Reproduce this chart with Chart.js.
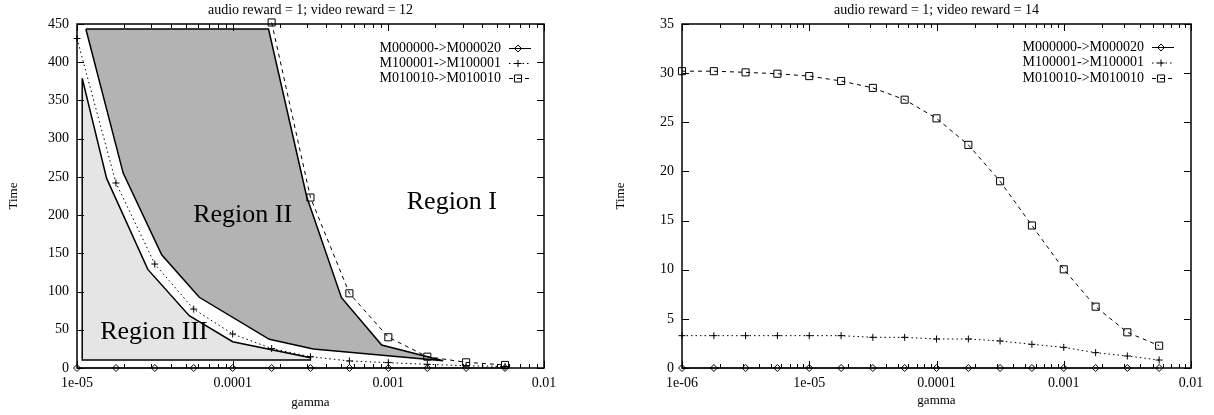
<!DOCTYPE html>
<html>
<head>
<meta charset="utf-8">
<script src="https://cdn.jsdelivr.net/npm/chart.js@4.4.1/dist/chart.umd.min.js"></script>
<style>
  body { margin: 0; background: #fff; }
  .panel { position: absolute; top: 0; width: 607px; height: 415px; }
</style>
</head>
<body>
<div class="panel" style="left:0"><canvas id="left-chart" width="607" height="415"></canvas></div>
<div class="panel" style="left:607px"><canvas id="right-chart" width="607" height="415"></canvas></div>
<script>
const seriesLabels = ["M000000->M000020", "M100001->M100001", "M010010->M010010"];

// left panel: audio reward = 1; video reward = 12
const leftTitle = "audio reward = 1; video reward = 12";
const leftGamma = [1e-5, 1.78e-5, 3.16e-5, 5.62e-5, 1e-4, 1.78e-4, 3.16e-4, 5.62e-4, 1e-3, 1.78e-3, 3.16e-3, 5.62e-3];
const leftM000000 = [0, 0, 0, 0, 0, 0, 0, 0, 0, 0, 0, 0];
const leftM100001 = [431, 242, 136, 77, 44.5, 25.5, 14.8, 9.2, 7.0, 4.8, 3.0, 2.0];
const leftM010010 = [null, null, null, null, null, 452, 223, 97.7, 40.2, 14.8, 7.4, 4.0];

const regionIIGamma = [1.14e-5, 1.70e-4, 2.99e-4, 5.0e-4, 9.06e-4, 2.25e-3, 3.3e-4, 1.72e-4, 6.1e-5, 3.5e-5, 1.98e-5, 1.14e-5];
const regionIITime = [443.5, 443.5, 224, 92, 30, 9.5, 25, 37.5, 92.5, 148, 255, 443.5];
const regionIIIGamma = [1.08e-5, 1.08e-5, 3.16e-4, 3.16e-4, 1e-4, 5.26e-5, 2.85e-5, 1.55e-5, 1.08e-5];
const regionIIITime = [379, 10.5, 10.5, 13.5, 34.4, 68.4, 129, 248, 379];

const regionNames = ["Region I", "Region II", "Region III"];
const regionNameGamma = [2.56e-3, 1.16e-4, 3.12e-5];
const regionNameTime = [217, 200, 47];

// right panel: audio reward = 1; video reward = 14
const rightTitle = "audio reward = 1; video reward = 14";
const rightGamma = [1e-6, 1.78e-6, 3.16e-6, 5.62e-6, 1e-5, 1.78e-5, 3.16e-5, 5.62e-5, 1e-4, 1.78e-4, 3.16e-4, 5.62e-4, 1e-3, 1.78e-3, 3.16e-3, 5.62e-3];
const rightM000000 = [0, 0, 0, 0, 0, 0, 0, 0, 0, 0, 0, 0, 0, 0, 0, 0];
const rightM100001 = [3.29, 3.29, 3.29, 3.29, 3.29, 3.29, 3.12, 3.12, 2.95, 2.95, 2.75, 2.41, 2.1, 1.56, 1.22, 0.81];
const rightM010010 = [30.2, 30.2, 30.08, 29.94, 29.7, 29.2, 28.5, 27.3, 25.4, 22.7, 19.0, 14.5, 10.04, 6.24, 3.63, 2.27];

Chart.defaults.font.family = "'Liberation Serif', 'Times New Roman', serif";
Chart.defaults.color = "#000";

function pts(xs, ys) {
  return xs.map((x, i) => ({ x: x, y: ys[i] }));
}

function formatGamma(v) {
  const lg = Math.log10(v);
  const e = Math.round(lg);
  if (Math.abs(lg - e) > 1e-6) return null;
  if (e >= -4) return Math.pow(10, e).toFixed(Math.max(0, -e));
  return "1e-" + String(-e).padStart(2, "0");
}

function lineSets(gamma, a, b, c) {
  return [
    {
      label: seriesLabels[0], data: pts(gamma, a), showLine: true,
      borderColor: "#000", borderWidth: 1, pointStyle: "rectRot", pointRadius: 3.5,
      pointBorderColor: "#000", pointBackgroundColor: "rgba(0,0,0,0)", pointBorderWidth: 1, order: 1, clip: 8
    },
    {
      label: seriesLabels[1], data: pts(gamma, b), showLine: true, borderDash: [1.5, 3],
      borderColor: "#000", borderWidth: 1, pointStyle: "cross", pointRadius: 3.5,
      pointBorderColor: "#000", pointBackgroundColor: "rgba(0,0,0,0)", pointBorderWidth: 1, order: 1, clip: 8
    },
    {
      label: seriesLabels[2], data: pts(gamma, c), showLine: true, borderDash: [4, 4],
      borderColor: "#000", borderWidth: 1, pointStyle: "rect", pointRadius: 5,
      pointBorderColor: "#000", pointBackgroundColor: "rgba(0,0,0,0)", pointBorderWidth: 1, order: 1, clip: 8
    }
  ];
}

// gnuplot style frame with inward ticks on all four sides
const frameTicks = {
  id: "frameTicks",
  afterDatasetsDraw(chart) {
    const { ctx, chartArea: a, scales: { x, y } } = chart;
    ctx.save();
    ctx.strokeStyle = "#000";
    ctx.lineWidth = 1;
    ctx.setLineDash([]);
    ctx.beginPath();
    y.ticks.forEach((t) => {
      const py = Math.round(y.getPixelForValue(t.value)) + 0.5;
      ctx.moveTo(a.left, py); ctx.lineTo(a.left + 7, py);
      ctx.moveTo(a.right, py); ctx.lineTo(a.right - 7, py);
    });
    const e0 = Math.floor(Math.log10(x.min) + 1e-9);
    const e1 = Math.ceil(Math.log10(x.max) - 1e-9);
    for (let e = e0; e <= e1; e++) {
      for (let m = 1; m < 10; m++) {
        const v = m * Math.pow(10, e);
        if (v < x.min * 0.999 || v > x.max * 1.001) continue;
        const px = Math.round(x.getPixelForValue(v)) + 0.5;
        const len = m === 1 ? 7 : 4;
        ctx.moveTo(px, a.bottom); ctx.lineTo(px, a.bottom - len);
        ctx.moveTo(px, a.top); ctx.lineTo(px, a.top + len);
      }
    }
    ctx.stroke();
    ctx.lineWidth = 1.5;
    ctx.strokeRect(a.left, a.top, a.right - a.left, a.bottom - a.top);
    ctx.restore();
  }
};

function drawMark(ctx, style, r, x, y) {
  ctx.beginPath();
  if (style === "rectRot") {
    ctx.moveTo(x - r, y); ctx.lineTo(x, y - r); ctx.lineTo(x + r, y); ctx.lineTo(x, y + r); ctx.closePath();
  } else if (style === "cross") {
    ctx.moveTo(x - r, y); ctx.lineTo(x + r, y); ctx.moveTo(x, y - r); ctx.lineTo(x, y + r);
  } else {
    const s = r * Math.SQRT1_2;
    ctx.rect(x - s, y - s, 2 * s, 2 * s);
  }
  ctx.stroke();
}

// key in the top right corner, like gnuplot
const keyBox = {
  id: "keyBox",
  afterDatasetsDraw(chart, args, opts) {
    const { ctx } = chart;
    ctx.save();
    ctx.font = "14px 'Liberation Serif'";
    ctx.textAlign = "right";
    ctx.textBaseline = "middle";
    chart.data.datasets.filter((d) => d.label).forEach((d, i) => {
      const y = opts.top + i * opts.rowHeight;
      ctx.fillStyle = "#000";
      ctx.fillText(d.label, opts.right, y);
      ctx.strokeStyle = "#000";
      ctx.lineWidth = 1;
      ctx.setLineDash(d.borderDash || []);
      ctx.beginPath();
      ctx.moveTo(opts.right + 8, y + 0.5);
      ctx.lineTo(opts.right + 30, y + 0.5);
      ctx.stroke();
      ctx.setLineDash([]);
      drawMark(ctx, d.pointStyle, d.pointRadius, opts.right + 17, y + 0.5);
    });
    ctx.restore();
  }
};

const regionText = {
  id: "regionText",
  afterDatasetsDraw(chart, args, opts) {
    if (!opts.names) return;
    const { ctx, scales: { x, y } } = chart;
    ctx.save();
    ctx.font = "26px 'Liberation Serif'";
    ctx.fillStyle = "#000";
    ctx.textAlign = "center";
    ctx.textBaseline = "middle";
    opts.names.forEach((n, i) => {
      ctx.fillText(n, x.getPixelForValue(opts.gamma[i]), y.getPixelForValue(opts.time[i]));
    });
    ctx.restore();
  }
};

function makeChart(canvas, cfg) {
  return new Chart(canvas.getContext("2d"), {
    type: "scatter",
    data: { datasets: cfg.datasets },
    plugins: [frameTicks, keyBox, regionText],
    options: {
      responsive: false,
      animation: false,
      devicePixelRatio: 1,
      layout: { padding: { left: 0, right: cfg.padRight, top: 0, bottom: 0 } },
      elements: { line: { tension: 0 } },
      plugins: {
        legend: { display: false },
        tooltip: { enabled: false },
        title: {
          display: true, text: cfg.title, fullSize: false,
          font: { size: 14, weight: "normal", lineHeight: 1.2 }, padding: { top: 1.5, bottom: 5.7 }
        },
        keyBox: cfg.key,
        regionText: cfg.regions || {}
      },
      scales: {
        x: {
          type: "logarithmic", min: cfg.xMin, max: 0.01,
          grid: { display: false, drawTicks: false },
          border: { display: false },
          ticks: {
            autoSkip: false, maxRotation: 0, padding: 7,
            font: { size: 14 },
            callback: (v) => formatGamma(v)
          },
          title: { display: true, text: "gamma", font: { size: 13 }, padding: { top: 0, bottom: cfg.gammaPad } },
          afterFit: (s) => { s.height = 47; }
        },
        y: {
          type: "linear", min: 0, max: cfg.yMax,
          grid: { display: false, drawTicks: false },
          border: { display: false },
          ticks: { stepSize: cfg.yStep, padding: 8, font: { size: 14 } },
          title: { display: true, text: "Time", font: { size: 13 }, padding: { top: 6, bottom: 0 } },
          afterFit: (s) => { s.width = cfg.yWidth; }
        }
      }
    }
  });
}

const leftSets = lineSets(leftGamma, leftM000000, leftM100001, leftM010010).concat([
  {
    label: "", data: pts(regionIIGamma, regionIITime), showLine: true, fill: "shape",
    backgroundColor: "#b3b3b3", borderColor: "#000", borderWidth: 1.5, pointRadius: 0, order: 2
  },
  {
    label: "", data: pts(regionIIIGamma, regionIIITime), showLine: true, fill: "shape",
    backgroundColor: "#e5e5e5", borderColor: "#000", borderWidth: 1.5, pointRadius: 0, order: 2
  }
]);

makeChart(document.getElementById("left-chart"), {
  title: leftTitle,
  datasets: leftSets,
  xMin: 1e-5, yMax: 450, yStep: 50,
  padRight: 63, yWidth: 77, gammaPad: 5,
  key: { right: 501, top: 48, rowHeight: 15 },
  regions: { names: regionNames, gamma: regionNameGamma, time: regionNameTime }
});

makeChart(document.getElementById("right-chart"), {
  title: rightTitle,
  datasets: lineSets(rightGamma, rightM000000, rightM100001, rightM010010),
  xMin: 1e-6, yMax: 35, yStep: 5,
  padRight: 23, yWidth: 75, gammaPad: 7,
  key: { right: 537, top: 47, rowHeight: 15.5 }
});
</script>
</body>
</html>
